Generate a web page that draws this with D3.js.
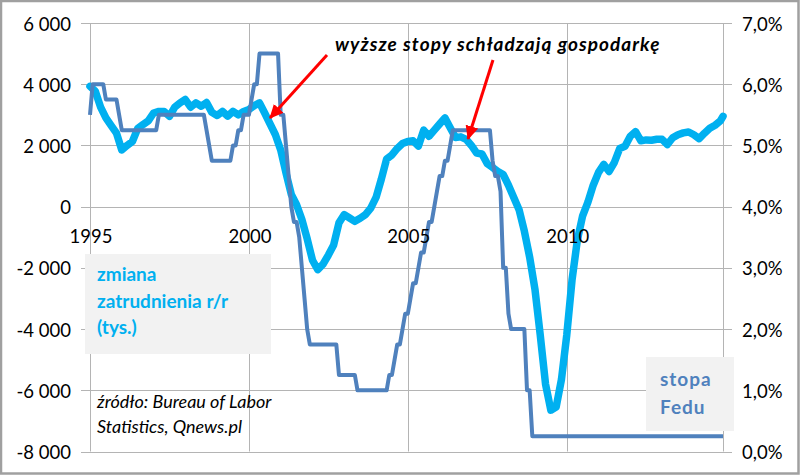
<!DOCTYPE html>
<meta charset="utf-8">
<script src="https://d3js.org/d3.v7.min.js"></script>
<style>
  body { margin: 0; background: #fff; }
  text { font-family: Lato, "Open Sans", sans-serif; }
</style>
<svg id="chart" width="800" height="475"></svg>
<script>

// Fed funds target rate (%), one value per month, Jan 1995 - Dec 2014
var fedRate = [
  5.5, 6.0, 6.0, 6.0, 6.0, 6.0, 5.75, 5.75, 5.75, 5.75, 5.75, 5.5,        // 1995
  5.25, 5.25, 5.25, 5.25, 5.25, 5.25, 5.25, 5.25, 5.25, 5.25, 5.25, 5.25, // 1996
  5.25, 5.25, 5.5, 5.5, 5.5, 5.5, 5.5, 5.5, 5.5, 5.5, 5.5, 5.5,           // 1997
  5.5, 5.5, 5.5, 5.5, 5.5, 5.5, 5.5, 5.5, 5.25, 5.0, 4.75, 4.75,          // 1998
  4.75, 4.75, 4.75, 4.75, 4.75, 4.75, 5.0, 5.0, 5.25, 5.25, 5.5, 5.5,     // 1999
  5.5, 5.75, 6.0, 6.0, 6.5, 6.5, 6.5, 6.5, 6.5, 6.5, 6.5, 6.5,            // 2000
  5.5, 5.5, 5.0, 4.5, 4.0, 3.75, 3.75, 3.5, 3.0, 2.5, 2.0, 1.75,          // 2001
  1.75, 1.75, 1.75, 1.75, 1.75, 1.75, 1.75, 1.75, 1.75, 1.75, 1.25, 1.25, // 2002
  1.25, 1.25, 1.25, 1.25, 1.25, 1.0, 1.0, 1.0, 1.0, 1.0, 1.0, 1.0,        // 2003
  1.0, 1.0, 1.0, 1.0, 1.0, 1.25, 1.25, 1.5, 1.75, 1.75, 2.0, 2.25,        // 2004
  2.25, 2.5, 2.75, 2.75, 3.0, 3.25, 3.25, 3.5, 3.75, 3.75, 4.0, 4.25,     // 2005
  4.5, 4.5, 4.75, 4.75, 5.0, 5.25, 5.25, 5.25, 5.25, 5.25, 5.25, 5.25,    // 2006
  5.25, 5.25, 5.25, 5.25, 5.25, 5.25, 5.25, 5.25, 4.75, 4.5, 4.5, 4.25,   // 2007
  3.0, 3.0, 2.25, 2.0, 2.0, 2.0, 2.0, 2.0, 2.0, 1.0, 1.0, 0.25,           // 2008
  0.25, 0.25, 0.25, 0.25, 0.25, 0.25, 0.25, 0.25, 0.25, 0.25, 0.25, 0.25, // 2009
  0.25, 0.25, 0.25, 0.25, 0.25, 0.25, 0.25, 0.25, 0.25, 0.25, 0.25, 0.25, // 2010
  0.25, 0.25, 0.25, 0.25, 0.25, 0.25, 0.25, 0.25, 0.25, 0.25, 0.25, 0.25, // 2011
  0.25, 0.25, 0.25, 0.25, 0.25, 0.25, 0.25, 0.25, 0.25, 0.25, 0.25, 0.25, // 2012
  0.25, 0.25, 0.25, 0.25, 0.25, 0.25, 0.25, 0.25, 0.25, 0.25, 0.25, 0.25, // 2013
  0.25, 0.25, 0.25, 0.25, 0.25, 0.25, 0.25, 0.25, 0.25, 0.25, 0.25, 0.25  // 2014
];

// employment change y/y (thousands), read every 2nd month (Jan, Mar, May, Jul, Sep, Nov) + Dec 2014
var empChange = [
  3930, 3770, 3250, 2900, 2650, 2400,        // 1995
  1850, 2000, 2130, 2550, 2680, 2800,        // 1996
  3060, 3110, 3110, 2950, 3250, 3390,        // 1997
  3500, 3250, 3390, 3280, 3400, 3080,        // 1998
  2980, 3110, 2960, 3110, 3000, 3110,        // 1999
  3170, 3300, 3390, 3050, 2700, 2350,        // 2000
  1850, 1100, 400, 60, -420, -1050,          // 2001
  -1750, -2060, -1880, -1580, -1250, -530,   // 2002
  -260, -370, -480, -380, -260, -50,         // 2003
  300, 900, 1560, 1690, 1900, 2060,          // 2004
  2130, 2150, 1980, 2500, 2300, 2500,        // 2005
  2700, 2900, 2580, 2260, 2280, 2200,        // 2006
  2000, 1750, 1720, 1400, 1280, 1150,        // 2007
  1050, 700, 300, -100, -800, -1650,         // 2008
  -2700, -4200, -5800, -6650, -6550, -5650,  // 2009
  -4200, -2400, -1100, -300, 150, 700,       // 2010
  1120, 1380, 1150, 1450, 1900, 1970,        // 2011
  2300, 2450, 2150, 2180, 2170, 2200,        // 2012
  2200, 2030, 2250, 2350, 2410, 2440,        // 2013
  2350, 2220, 2400, 2560, 2660, 2800,        // 2014
  2950                                       // Dec 2014
];
var empMonth = d3.range(0, 240, 2).concat([239]);

var yearTicks = [0, 60, 120, 180];
var yearLabels = ["1995", "2000", "2005", "2010"];
var leftTicks = [6000, 4000, 2000, 0, -2000, -4000, -6000, -8000];
var rightTicks = [7, 6, 5, 4, 3, 2, 1, 0];

var svg = d3.select("#chart");

var x = d3.scaleLinear().domain([0, 239]).range([90, 723]);
var yL = d3.scaleLinear().domain([-8000, 6000]).range([451.5, 23]);
var yR = d3.scaleLinear().domain([0, 7]).range([451.5, 23]);

var pl = d3.formatLocale({decimal: ",", thousands: "\u00a0", grouping: [3], currency: ["", ""], minus: "-"});
var fmtL = pl.format(",d");
var fmtR = function(v) { return pl.format(".1f")(v) + "%"; };

var gridColor = "#b4b4b4";

// horizontal gridlines (with small tick stubs on both sides)
svg.append("g")
  .selectAll("line")
  .data(leftTicks)
  .join("line")
    .attr("x1", 81).attr("x2", 732)
    .attr("y1", function(d) { return Math.round(yL(d)) + 0.5; })
    .attr("y2", function(d) { return Math.round(yL(d)) + 0.5; })
    .attr("stroke", gridColor);

// vertical gridlines at the year ticks and the right axis
svg.append("g")
  .selectAll("line")
  .data(yearTicks.concat([239]))
  .join("line")
    .attr("x1", function(d) { return Math.round(x(d)) + 0.5; })
    .attr("x2", function(d) { return Math.round(x(d)) + 0.5; })
    .attr("y1", yL(6000)).attr("y2", yL(-8000))
    .attr("stroke", gridColor);

// legend boxes
svg.append("rect").attr("x", 85).attr("y", 254).attr("width", 186).attr("height", 100).attr("fill", "#f2f2f2");
svg.append("rect").attr("x", 646).attr("y", 357).attr("width", 88).attr("height", 74).attr("fill", "#f2f2f2");

// employment line
svg.append("path")
  .datum(empChange)
  .attr("fill", "none")
  .attr("stroke", "#00b0f0")
  .attr("stroke-width", 7.5)
  .attr("stroke-linejoin", "round")
  .attr("stroke-linecap", "round")
  .attr("d", d3.line()
    .x(function(d, i) { return x(empMonth[i]); })
    .y(function(d) { return yL(d); }));

// fed rate line
svg.append("path")
  .datum(fedRate)
  .attr("fill", "none")
  .attr("stroke", "#4f81bd")
  .attr("stroke-width", 4)
  .attr("stroke-linejoin", "round")
  .attr("d", d3.line()
    .x(function(d, i) { return x(i); })
    .y(function(d) { return yR(d); }));

// axis labels
svg.append("g")
  .selectAll("text")
  .data(leftTicks)
  .join("text")
    .attr("x", 71)
    .attr("y", function(d) { return yL(d) + 7.5; })
    .attr("text-anchor", "end")
    .attr("font-size", 18.5)
    .attr("fill", "#000")
    .text(fmtL);

svg.append("g")
  .selectAll("text")
  .data(rightTicks)
  .join("text")
    .attr("x", 742)
    .attr("y", function(d) { return yR(d) + 7.5; })
    .attr("font-size", 18.5)
    .attr("fill", "#000")
    .text(fmtR);

svg.append("g")
  .selectAll("text")
  .data(yearTicks)
  .join("text")
    .attr("x", function(d) { return x(d) + 1; })
    .attr("y", 243)
    .attr("text-anchor", "middle")
    .attr("font-size", 18.5)
    .attr("fill", "#000")
    .text(function(d, i) { return yearLabels[i]; });

// legend texts
var leg1 = svg.append("text").attr("font-size", 19).attr("font-weight", "bold").attr("fill", "#00b0f0");
leg1.append("tspan").attr("x", 97).attr("y", 281).text("zmiana");
leg1.append("tspan").attr("x", 97).attr("y", 307.5).text("zatrudnienia r/r");
leg1.append("tspan").attr("x", 97).attr("y", 334).text("(tys.)");

var leg2 = svg.append("text").attr("font-size", 19).attr("font-weight", "bold").attr("fill", "#4f81bd")
  .attr("letter-spacing", 1);
leg2.append("tspan").attr("x", 660).attr("y", 386).text("stopa");
leg2.append("tspan").attr("x", 660).attr("y", 414).text("Fedu");

// source
var src = svg.append("text").attr("font-size", 18).attr("font-style", "italic").attr("fill", "#000");
src.append("tspan").attr("x", 97).attr("y", 408).text("źródło: Bureau of Labor");
src.append("tspan").attr("x", 97).attr("y", 433).text("Statistics, Qnews.pl");

// annotation + arrows
svg.append("text")
  .attr("x", 335).attr("y", 51)
  .attr("font-size", 19).attr("font-weight", "bold").attr("font-style", "italic")
  .attr("letter-spacing", 1.05)
  .attr("fill", "#000")
  .text("wyższe stopy schładzają gospodarkę");

svg.append("defs").append("marker")
  .attr("id", "head")
  .attr("markerUnits", "userSpaceOnUse")
  .attr("viewBox", "0 0 14 13")
  .attr("refX", 13).attr("refY", 6.5)
  .attr("markerWidth", 14).attr("markerHeight", 13)
  .attr("orient", "auto")
  .append("path")
    .attr("d", "M0,0 L14,6.5 L0,13 Z")
    .attr("fill", "#ff0000");

var arrows = [
  {x1: 327, y1: 55, x2: 270, y2: 118},
  {x1: 493, y1: 60, x2: 468, y2: 139}
];
svg.append("g")
  .selectAll("line")
  .data(arrows)
  .join("line")
    .attr("x1", function(d) { return d.x1; })
    .attr("y1", function(d) { return d.y1; })
    .attr("x2", function(d) { return d.x2; })
    .attr("y2", function(d) { return d.y2; })
    .attr("stroke", "#ff0000")
    .attr("stroke-width", 3)
    .attr("marker-end", "url(#head)");

// outer frame
svg.append("rect")
  .attr("x", 1).attr("y", 1).attr("width", 797.5).attr("height", 472.5)
  .attr("fill", "none").attr("stroke", "#a0a0a0").attr("stroke-width", 2.5);

</script>
